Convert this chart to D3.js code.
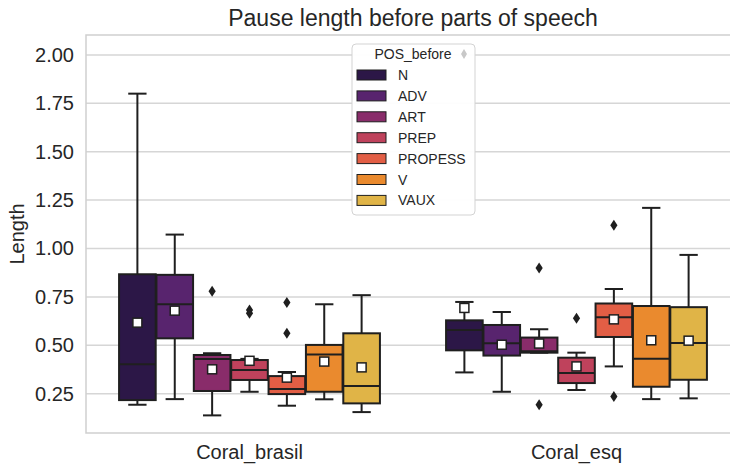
<!DOCTYPE html>
<html>
<head>
<meta charset="utf-8">
<script src="https://cdn.jsdelivr.net/npm/d3@7"></script>
<style>
  html, body { margin: 0; padding: 0; background: #fff; }
  text { font-family: "Liberation Sans", Arial, sans-serif; fill: #262626; }
</style>
</head>
<body>
<svg id="chart" width="730" height="466"></svg>
<script>
// data
var groups = ['Coral_brasil', 'Coral_esq'];
var posTags = ['N', 'ADV', 'ART', 'PREP', 'PROPESS', 'V', 'VAUX'];
var palette = ['#2c1747', '#58246e', '#892c6a', '#bf425c', '#e25e45', '#ea8a2e', '#e0b447'];

// one row per group, one value per POS tag
var whiskLo = [
  [0.193, 0.222, 0.138, 0.260, 0.188, 0.221, 0.155],
  [0.360, 0.260, 0.462, 0.269, 0.391, 0.222, 0.226]
];
var q1 = [
  [0.217, 0.536, 0.264, 0.321, 0.248, 0.260, 0.200],
  [0.474, 0.447, 0.462, 0.305, 0.543, 0.286, 0.322]
];
var medians = [
  [0.402, 0.712, 0.429, 0.372, 0.274, 0.452, 0.290],
  [0.579, 0.510, 0.469, 0.357, 0.645, 0.431, 0.512]
];
var q3 = [
  [0.867, 0.864, 0.450, 0.424, 0.341, 0.502, 0.562],
  [0.629, 0.605, 0.540, 0.436, 0.716, 0.703, 0.697]
];
var whiskHi = [
  [1.800, 1.072, 0.459, 0.430, 0.362, 0.712, 0.759],
  [0.724, 0.672, 0.583, 0.462, 0.791, 1.210, 0.967]
];
var means = [
  [0.617, 0.679, 0.376, 0.420, 0.333, 0.416, 0.386],
  [0.693, 0.503, 0.509, 0.391, 0.634, 0.526, 0.524]
];
var outliers = [
  [[], [], [0.779], [0.683, 0.665], [0.721, 0.562], [], []],
  [[], [], [0.900, 0.193], [0.640], [1.120, 0.236], [], []]
];
var yTicks = [0.25, 0.50, 0.75, 1.00, 1.25, 1.50, 1.75, 2.00];

var svg = d3.select('#chart');
var margin = { left: 86, top: 35, right: 740, bottom: 433 };

var x = d3.scaleBand().domain(groups).range([margin.left, margin.right]);
var hue = d3.scaleBand().domain(posTags).range([0, x.bandwidth() * 0.8]);
var y = d3.scaleLinear().domain([0.047, 2.103]).range([margin.bottom, margin.top]);
var color = d3.scaleOrdinal().domain(posTags).range(palette);

var boxW = hue.bandwidth() * 0.98;
var stroke = '#1f1f1f';

// gridlines
svg.append('g')
  .selectAll('line')
  .data(yTicks)
  .enter()
  .append('line')
  .attr('x1', margin.left)
  .attr('x2', margin.right)
  .attr('y1', function(d) { return y(d); })
  .attr('y2', function(d) { return y(d); })
  .attr('stroke', '#d6d6d6')
  .attr('stroke-width', 1.5);

// frame
svg.append('rect')
  .attr('x', margin.left)
  .attr('y', margin.top)
  .attr('width', margin.right - margin.left)
  .attr('height', margin.bottom - margin.top)
  .attr('fill', 'none')
  .attr('stroke', '#cfcfcf')
  .attr('stroke-width', 1.5);

// y axis labels
var yAxis = svg.append('g')
  .attr('transform', 'translate(' + margin.left + ',0)')
  .call(d3.axisLeft(y).tickValues(yTicks).tickFormat(d3.format('.2f')).tickSize(0).tickPadding(12));
yAxis.select('.domain').remove();
yAxis.selectAll('text').style('font-size', '20px').attr('fill', '#262626');

// x axis labels
var xAxis = svg.append('g')
  .attr('transform', 'translate(0,' + margin.bottom + ')')
  .call(d3.axisBottom(x).tickSize(0).tickPadding(12));
xAxis.select('.domain').remove();
xAxis.selectAll('text').style('font-size', '20px').attr('fill', '#262626');

svg.append('text')
  .attr('transform', 'translate(24,' + ((margin.top + margin.bottom) / 2) + ') rotate(-90)')
  .attr('text-anchor', 'middle')
  .style('font-size', '20px')
  .text('Length');

svg.append('text')
  .attr('x', (margin.left + margin.right) / 2)
  .attr('y', 26)
  .attr('text-anchor', 'middle')
  .style('font-size', '23px')
  .text('Pause length before parts of speech');

// boxes
var boxes = [];
groups.forEach(function(g, gi) {
  posTags.forEach(function(p, pi) {
    boxes.push({
      group: g, pos: p,
      lo: whiskLo[gi][pi], q1: q1[gi][pi], med: medians[gi][pi],
      q3: q3[gi][pi], hi: whiskHi[gi][pi], mean: means[gi][pi],
      fliers: outliers[gi][pi]
    });
  });
});

function cx(d) {
  return x(d.group) + x.bandwidth() * 0.1 + hue(d.pos) + hue.bandwidth() / 2;
}

var boxG = svg.append('g')
  .selectAll('g.box')
  .data(boxes)
  .enter()
  .append('g')
  .attr('class', 'box');

// whiskers
boxG.append('line')
  .attr('x1', cx).attr('x2', cx)
  .attr('y1', function(d) { return y(d.q3); })
  .attr('y2', function(d) { return y(d.hi); })
  .attr('stroke', stroke).attr('stroke-width', 2);
boxG.append('line')
  .attr('x1', cx).attr('x2', cx)
  .attr('y1', function(d) { return y(d.q1); })
  .attr('y2', function(d) { return y(d.lo); })
  .attr('stroke', stroke).attr('stroke-width', 2);

// caps
['lo', 'hi'].forEach(function(k) {
  boxG.append('line')
    .attr('x1', function(d) { return cx(d) - boxW / 4; })
    .attr('x2', function(d) { return cx(d) + boxW / 4; })
    .attr('y1', function(d) { return y(d[k]); })
    .attr('y2', function(d) { return y(d[k]); })
    .attr('stroke', stroke).attr('stroke-width', 2);
});

boxG.append('rect')
  .attr('x', function(d) { return cx(d) - boxW / 2; })
  .attr('y', function(d) { return y(d.q3); })
  .attr('width', boxW)
  .attr('height', function(d) { return y(d.q1) - y(d.q3); })
  .attr('fill', function(d) { return color(d.pos); })
  .attr('stroke', stroke)
  .attr('stroke-width', 2);

boxG.append('line')
  .attr('x1', function(d) { return cx(d) - boxW / 2; })
  .attr('x2', function(d) { return cx(d) + boxW / 2; })
  .attr('y1', function(d) { return y(d.med); })
  .attr('y2', function(d) { return y(d.med); })
  .attr('stroke', stroke).attr('stroke-width', 2);

// fliers as thin diamonds
boxG.selectAll('path.flier')
  .data(function(d) {
    return d.fliers.map(function(v) { return { cx: cx(d), v: v }; });
  })
  .enter()
  .append('path')
  .attr('class', 'flier')
  .attr('d', function(f) {
    var px = f.cx, py = y(f.v);
    return 'M' + px + ',' + (py - 5.5) + 'L' + (px + 3.6) + ',' + py +
      'L' + px + ',' + (py + 5.5) + 'L' + (px - 3.6) + ',' + py + 'Z';
  })
  .attr('fill', stroke);

// mean markers
boxG.append('rect')
  .attr('x', function(d) { return cx(d) - 4.5; })
  .attr('y', function(d) { return y(d.mean) - 4.5; })
  .attr('width', 9)
  .attr('height', 9)
  .attr('fill', '#fff')
  .attr('stroke', stroke)
  .attr('stroke-width', 1.5);

// legend
var legend = svg.append('g').attr('transform', 'translate(352,44)');
legend.append('rect')
  .attr('width', 123)
  .attr('height', 171)
  .attr('rx', 4)
  .attr('fill', '#fff')
  .attr('fill-opacity', 0.95)
  .attr('stroke', '#d3d3d3')
  .attr('stroke-width', 1);
legend.append('text')
  .attr('x', 61)
  .attr('y', 15)
  .attr('text-anchor', 'middle')
  .style('font-size', '14px')
  .text('POS_before');
legend.append('path')
  .attr('d', 'M112,5L115,10L112,15L109,10Z')
  .attr('fill', '#c8c8c8');

var rows = legend.selectAll('g.row')
  .data(posTags)
  .enter()
  .append('g')
  .attr('class', 'row')
  .attr('transform', function(d, i) { return 'translate(0,' + (31 + i * 20.9) + ')'; });
rows.append('rect')
  .attr('x', 5)
  .attr('y', -5)
  .attr('width', 29)
  .attr('height', 10)
  .attr('fill', function(d) { return color(d); })
  .attr('stroke', stroke)
  .attr('stroke-width', 1);
rows.append('text')
  .attr('x', 46)
  .attr('y', 5)
  .style('font-size', '14px')
  .text(function(d) { return d; });
</script>
</body>
</html>
